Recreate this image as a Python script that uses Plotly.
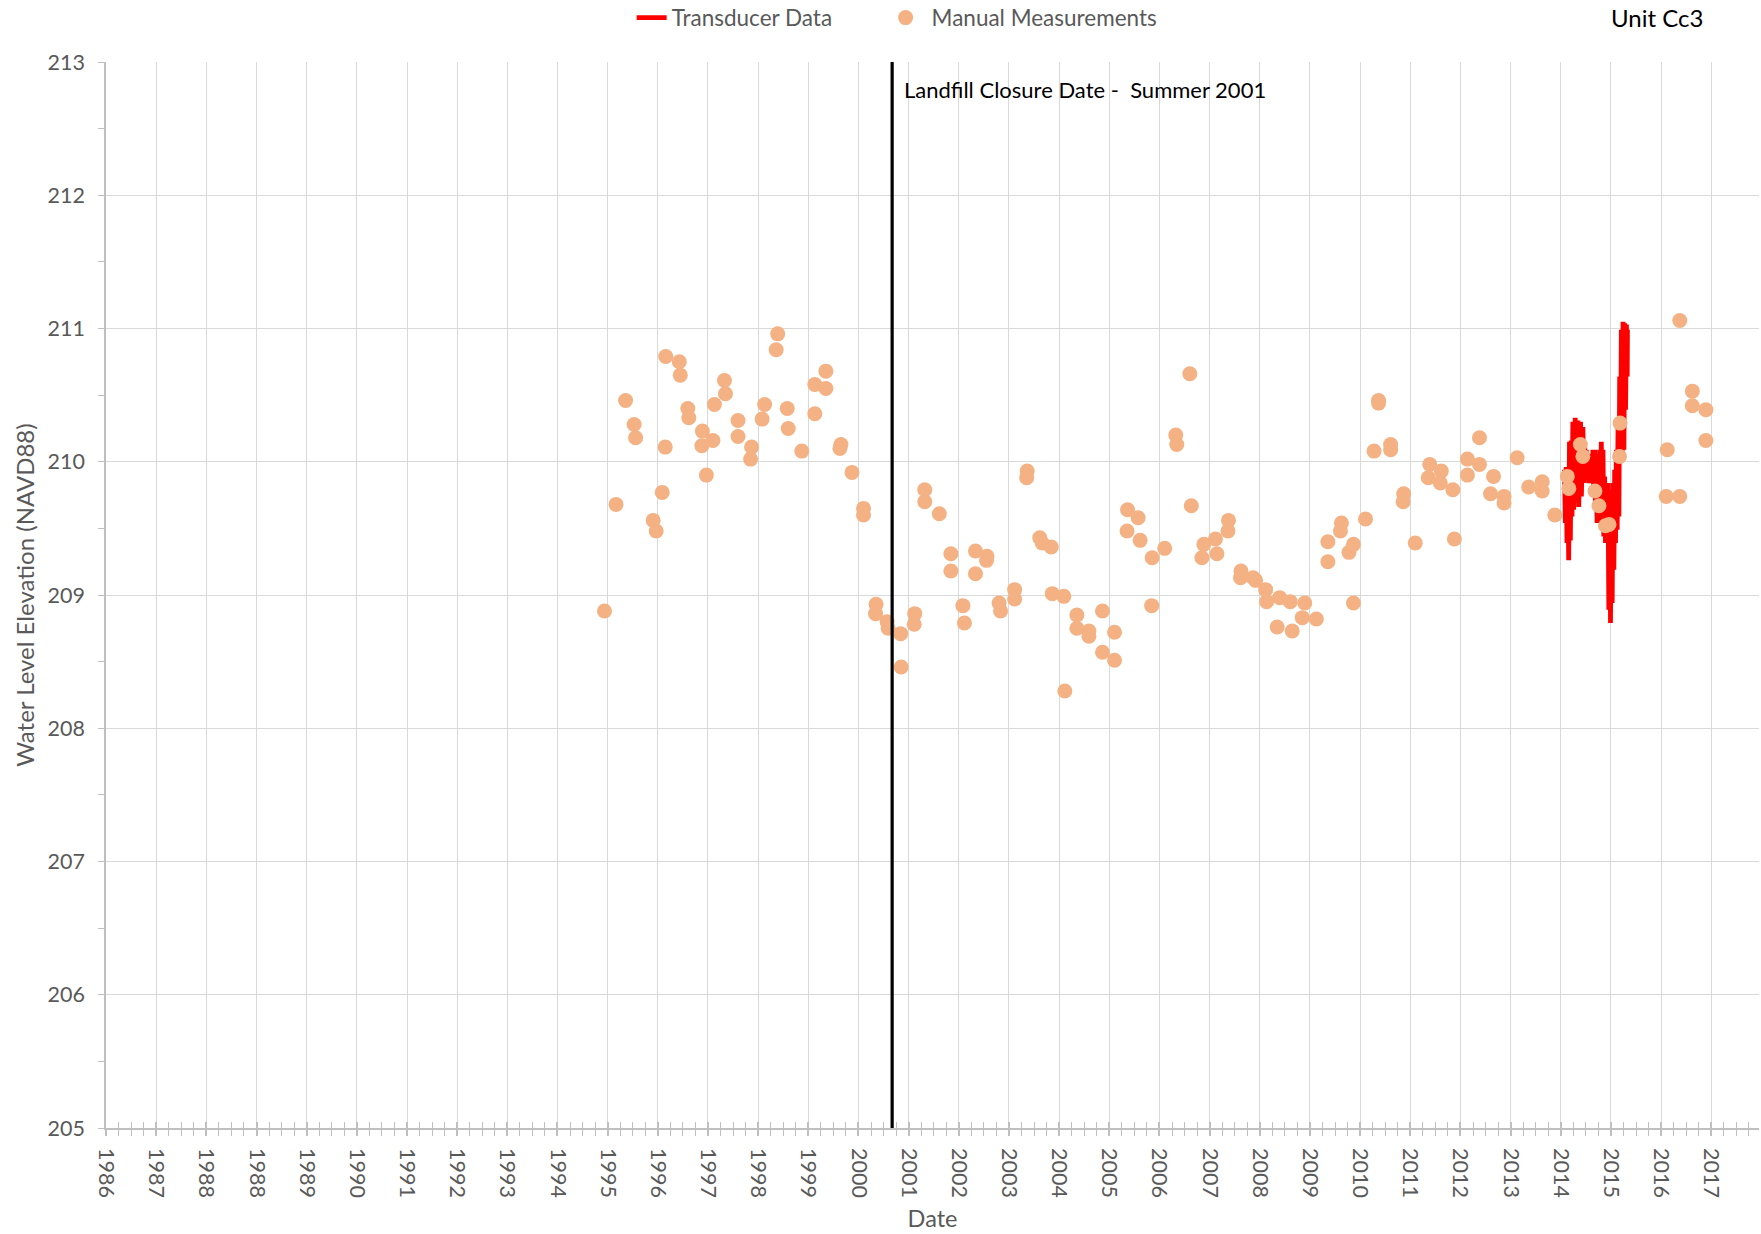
import pandas as pd
import plotly.graph_objects as go

# ---------------- data ----------------
# Manual water-level measurements: decimal year, elevation (ft, NAVD88)
manual_year = [
    1995.93, 1996.16, 1996.35, 1996.52, 1996.55, 1997.15, 1997.42, 1997.44, 1997.14, 1997.08,
    1996.90, 1996.96, 1997.59, 1997.61, 1997.88, 1998.09, 1997.87, 1997.96, 1998.12, 1998.32,
    1998.34, 1998.59, 1998.59, 1998.86, 1998.84, 1999.12, 1999.07, 1999.38, 1999.35, 1999.57,
    1999.59, 1999.86, 2000.12, 2000.12, 2000.34, 2000.34, 2000.64, 2000.62, 2000.86, 2001.09,
    2001.09, 2001.34, 2001.33, 2001.56, 2001.58, 2001.83, 2001.84, 2002.11, 2002.10, 2002.31,
    2002.31, 2002.60, 2002.83, 2002.83, 2003.07, 2003.10, 2003.32, 2003.55, 2003.54, 2003.32,
    2003.79, 2003.82, 2004.10, 2004.10, 2004.35, 2004.34,
    2004.60, 2004.65, 2004.83, 2004.85, 2005.08, 2005.10, 2005.34, 2005.34, 2005.58, 2005.58,
    2005.85, 2005.85, 2006.09, 2006.09, 2006.35, 2006.56, 2006.34, 2006.60, 2006.84, 2006.83,
    2007.09, 2007.31, 2007.33, 2007.59, 2007.62, 2007.87, 2007.83, 2008.10, 2008.13, 2008.36,
    2008.35, 2008.61, 2008.60, 2008.85, 2008.90, 2009.10, 2009.12, 2009.38, 2009.33, 2009.59,
    2009.63, 2009.88, 2009.83, 2010.11, 2010.34, 2010.34, 2010.61, 2010.59, 2010.85, 2010.76,
    2010.85, 2011.09, 2011.35, 2011.35, 2011.26, 2011.59, 2011.59, 2011.85, 2011.84, 2012.08,
    2012.37, 2012.34, 2012.60, 2012.58,
    2012.83, 2012.86, 2013.12, 2013.12, 2013.36, 2013.36, 2013.64, 2013.58, 2013.85, 2013.85,
    2014.11, 2014.34, 2014.61, 2014.61, 2014.86, 2015.11, 2015.14, 2015.37, 2015.42, 2015.66,
    2015.74, 2015.87, 2015.94, 2016.16, 2016.15, 2017.10, 2017.08, 2017.35, 2017.35, 2017.60,
    2017.60, 2017.87, 2017.87,
]
manual_elev = [
    208.88, 209.68, 210.46, 210.28, 210.18, 210.79, 210.75, 210.65, 210.11, 209.77,
    209.56, 209.48, 210.40, 210.33, 210.23, 210.16, 210.12, 209.90, 210.43, 210.61,
    210.51, 210.31, 210.19, 210.11, 210.02, 210.43, 210.32, 210.96, 210.84, 210.40,
    210.25, 210.08, 210.58, 210.36, 210.68, 210.55, 210.13, 210.10, 209.92, 209.65,
    209.60, 208.93, 208.86, 208.80, 208.75, 208.71, 208.46, 208.86, 208.78, 209.79,
    209.70, 209.61, 209.31, 209.18, 208.92, 208.79, 209.33, 209.29, 209.26, 209.16,
    208.94, 208.88, 209.04, 208.97, 209.93, 209.88,
    209.43, 209.39, 209.36, 209.01, 208.99, 208.28, 208.85, 208.75, 208.73, 208.69,
    208.88, 208.57, 208.72, 208.51, 209.64, 209.58, 209.48, 209.41, 209.28, 208.92,
    209.35, 210.20, 210.13, 210.66, 209.67, 209.38, 209.28, 209.42, 209.31, 209.56,
    209.48, 209.18, 209.13, 209.13, 209.11, 209.04, 208.95, 208.98, 208.76, 208.95,
    208.73, 208.94, 208.83, 208.82, 209.40, 209.25, 209.54, 209.48, 209.38, 209.32,
    208.94, 209.57, 210.46, 210.44, 210.08, 210.13, 210.09, 209.76, 209.70, 209.39,
    209.98, 209.88, 209.93, 209.84,
    209.79, 209.42, 210.02, 209.90, 210.18, 209.98, 209.89, 209.76, 209.74, 209.69,
    210.03, 209.81, 209.85, 209.78, 209.60, 209.89, 209.80, 210.13, 210.04, 209.78,
    209.67, 209.52, 209.53, 210.29, 210.04, 210.09, 209.74, 209.74, 211.06, 210.53,
    210.42, 210.39, 210.16,
]

# Transducer record (decimal year, elevation), read as the envelope of the dense trace
transducer_year = [
    2015.053, 2015.070, 2015.087, 2015.103, 2015.120, 2015.137, 2015.153, 2015.170,
    2015.187, 2015.203, 2015.220, 2015.237, 2015.267, 2015.283, 2015.320, 2015.337,
    2015.373, 2015.390, 2015.420, 2015.437, 2015.453, 2015.470, 2015.487, 2015.503,
    2015.520, 2015.537, 2015.553, 2015.570, 2015.587, 2015.603, 2015.620, 2015.637,
    2015.653, 2015.670, 2015.687, 2015.703, 2015.720, 2015.737, 2015.753, 2015.770,
    2015.787, 2015.803, 2015.820, 2015.837, 2015.853, 2015.870, 2015.887, 2015.903,
    2015.920, 2015.937, 2015.953, 2015.970, 2015.987, 2016.003, 2016.020, 2016.037,
    2016.053, 2016.070, 2016.087, 2016.103, 2016.120, 2016.137, 2016.153, 2016.170,
    2016.187, 2016.203, 2016.220, 2016.237, 2016.253, 2016.270, 2016.287, 2016.303,
    2016.307,
]
transducer_elev = [
    209.94, 209.54, 209.96, 209.39, 209.96, 209.26, 210.15, 209.41,
    210.16, 209.59, 210.30, 209.64, 210.33, 209.74, 210.31, 209.66,
    210.30, 209.74, 210.26, 209.84, 210.14, 209.89, 210.09, 209.86,
    210.06, 209.84, 210.04, 209.89, 210.01, 209.84, 210.09, 209.74,
    210.09, 209.64, 210.06, 209.54, 210.04, 209.59, 210.09, 209.54,
    210.15, 209.54, 210.09, 209.44, 209.89, 209.39, 209.84, 209.39,
    209.84, 208.89, 209.79, 208.79, 209.74, 208.94, 209.84, 209.19,
    209.94, 209.39, 210.09, 209.49, 210.26, 209.59, 210.64, 209.99,
    210.99, 210.04, 211.05, 210.09, 211.04, 210.39, 211.03, 210.64,
    210.99,
]

closure_year = 2001.66
closure_label = "Landfill Closure Date -  Summer 2001"
unit_label = "Unit Cc3"

# Tick labels of the source chart (365-day major unit, labelled by year)
tick_labels = ["1986", "1987", "1988", "1988"] + [str(y) for y in range(1989, 2018)]

# ---------------- helpers ----------------
ORIGIN = pd.Timestamp("1986-01-01")


def to_date(years):
    return [ORIGIN + pd.Timedelta(days=(y - 1986.0) * 365.25) for y in years]


tick_vals = [ORIGIN + pd.Timedelta(days=365 * k) for k in range(len(tick_labels))]
minor_vals = [ORIGIN + pd.Timedelta(days=91.25 * j) for j in range(0, 4 * 33 + 1)]
x_range = [ORIGIN, ORIGIN + pd.Timedelta(days=12027)]

FONT = "Lato, 'Open Sans', 'Liberation Sans', sans-serif"
GRAY = "#595959"

fig = go.Figure()

fig.add_trace(go.Scatter(
    x=to_date(transducer_year), y=transducer_elev,
    mode="lines", name="Transducer Data",
    line=dict(color="#FF0000", width=4.8),
    legend="legend", hoverinfo="x+y",
))

fig.add_trace(go.Scatter(
    x=to_date(manual_year), y=manual_elev,
    mode="markers", name="Manual Measurements",
    marker=dict(color="#F4B183", size=15, line=dict(width=0)),
    legend="legend2",
))

# invisible helper trace so the overlay axis (inside half of the crossing ticks) is drawn
fig.add_trace(go.Scatter(x=[x_range[0]], y=[None], xaxis="x2", showlegend=False,
                         hoverinfo="skip", mode="markers"))

closure_date = to_date([closure_year])[0]
fig.add_shape(type="line", xref="x", yref="y", x0=closure_date, x1=closure_date,
              y0=205, y1=213, line=dict(color="black", width=3.2))

fig.add_annotation(x=closure_date, y=212.79, xref="x", yref="y", text=closure_label,
                   showarrow=False, xanchor="left", yanchor="middle", xshift=10,
                   font=dict(family=FONT, size=22, color="black"))

fig.add_annotation(x=0.938, y=1.0413, xref="paper", yref="paper", text=unit_label,
                   showarrow=False, xanchor="center", yanchor="middle",
                   font=dict(family=FONT, size=24, color="black"))

fig.update_layout(
    width=1761, height=1234,
    margin=dict(l=106, r=2, t=62, b=106, autoexpand=False),
    paper_bgcolor="white", plot_bgcolor="white",
    font=dict(family=FONT, color=GRAY),
    xaxis=dict(
        type="date", range=x_range, automargin=False,
        tickmode="array", tickvals=tick_vals, ticktext=tick_labels, tickangle=90,
        tickfont=dict(family=FONT, size=21.5, color=GRAY),
        ticks="outside", ticklen=6, tickwidth=1.5, tickcolor="#BFBFBF",
        ticklabelstandoff=8,
        showgrid=True, gridcolor="#D9D9D9", gridwidth=1.4,
        showline=True, linecolor="#BFBFBF", linewidth=1.6,
        minor=dict(tickvals=minor_vals, ticks="outside", ticklen=6, tickwidth=1.3,
                   tickcolor="#BFBFBF", showgrid=False),
        title=dict(text="Date", font=dict(family=FONT, size=23.5, color=GRAY), standoff=14),
        zeroline=False,
    ),
    xaxis2=dict(
        type="date", range=x_range, overlaying="x", anchor="y", side="bottom",
        tickmode="array", tickvals=tick_vals, showticklabels=False,
        ticks="inside", ticklen=6, tickwidth=1.5, tickcolor="#BFBFBF",
        showgrid=False, showline=False, zeroline=False,
        minor=dict(tickvals=minor_vals, ticks="inside", ticklen=6, tickwidth=1.3,
                   tickcolor="#BFBFBF", showgrid=False),
    ),
    yaxis=dict(
        range=[205, 213], dtick=1, tick0=205, automargin=False,
        tickfont=dict(family=FONT, size=21.5, color=GRAY),
        ticks="outside", ticklen=6, tickwidth=1.3, tickcolor="#BFBFBF",
        ticklabelstandoff=9,
        showgrid=True, gridcolor="#D9D9D9", gridwidth=1.4,
        showline=True, linecolor="#BFBFBF", linewidth=1.6,
        minor=dict(dtick=0.5, ticks="outside", ticklen=6, tickwidth=1.3,
                   tickcolor="#BFBFBF", showgrid=False),
        title=dict(text="Water Level Elevation (NAVD88)",
                   font=dict(family=FONT, size=24, color=GRAY), standoff=6),
        zeroline=False,
    ),
    legend=dict(x=0.318, y=1.0413, xanchor="left", yanchor="middle", orientation="h",
                font=dict(family=FONT, size=22.5, color=GRAY), bgcolor="rgba(0,0,0,0)"),
    legend2=dict(x=0.468, y=1.0413, xanchor="left", yanchor="middle", orientation="h",
                 itemwidth=42,
                 font=dict(family=FONT, size=22.5, color=GRAY), bgcolor="rgba(0,0,0,0)"),
    showlegend=True,
)

fig.write_html("out.html",
               config={"displayModeBar": False},
               post_script="document.body.style.margin='0';document.body.style.padding='0';")
